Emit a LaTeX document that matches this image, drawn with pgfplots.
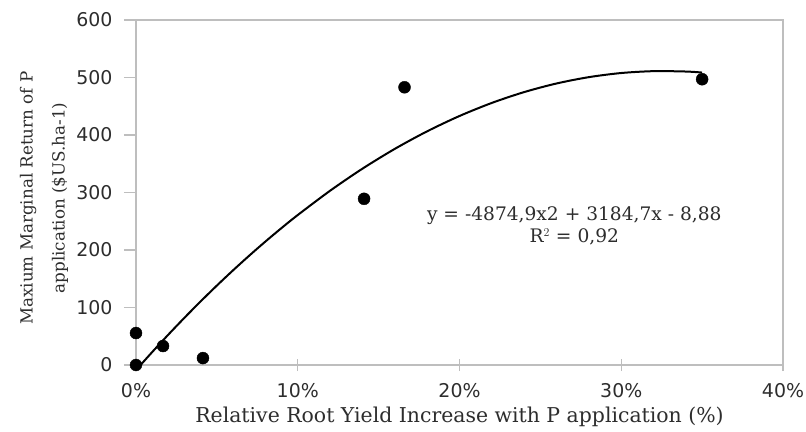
\documentclass[border=0pt]{standalone}
\usepackage{fontspec}
\setmainfont{DejaVu Serif}
\newfontfamily\ticksans{DejaVu Sans}
\usepackage{pgfplots}
\pgfplotsset{compat=1.18}
\definecolor{axgray}{RGB}{190,190,190}
\definecolor{txt}{RGB}{45,45,45}
\begin{document}
\begin{tikzpicture}
\begin{axis}[
  scale only axis, width=647bp, height=345bp,
  at={(0,0)}, anchor=south west,
  xmin=0, xmax=40, ymin=0, ymax=600,
  xtick={0,10,20,30,40}, ytick={0,100,200,300,400,500,600},
  xticklabels={0\%,10\%,20\%,30\%,40\%},
  xtick pos=bottom, ytick pos=left,
  tick align=center, ytick align=outside,
  major tick length=12bp,
  axis line style={axgray, line width=1.3bp},
  xtick style={draw=axgray, line width=1.3bp},
  ytick style={draw=axgray, line width=1.3bp},
  /pgf/number format/assume math mode=true,
  ticklabel style={font=\ticksans\fontsize{19}{21}\selectfont, text=txt},
  xticklabel style={yshift=-9bp},
  yticklabel style={xshift=-8bp},
  clip mode=individual,
]
\addplot[black, line width=2bp, smooth] coordinates {
(0,-8.88) (1,22.48) (2,52.86) (3,82.27) (4,110.71) (5,138.17) (6,164.65)
(7,190.16) (8,214.70) (9,238.26) (10,260.84) (12,303.09) (14,341.43)
(16,375.88) (18,406.42) (20,433.06) (22,455.81) (24,474.65) (26,489.60)
(28,500.64) (30,507.79) (32,511.03) (34,510.38) (35,508.59)
};
\addplot[only marks, mark=*, mark size=6bp, black] coordinates {
(0,55.6) (0,0) (1.67,33) (4.14,12) (14.1,289) (16.6,483) (35.0,497)
};
\node[align=center, font=\fontsize{18.7}{23}\selectfont, text=txt] at (axis cs:27.1,242) {y = -4874,9x2 + 3184,7x - 8,88\\R$^2$ = 0,92};
\end{axis}
\node[anchor=center, font=\fontsize{20.5}{24}\selectfont, text=txt] at (323.5bp,-52bp) {Relative Root Yield Increase with P application (\%)};
\node[rotate=90, align=center, font=\fontsize{16.8}{32}\selectfont, text=txt] at (-92bp,167bp) {Maxium Marginal Return of P\\application (\$US.ha-1)};
\pgfresetboundingbox
\path[use as bounding box] (-136bp,-67bp) rectangle (670bp,365bp);
\end{tikzpicture}
\end{document}
